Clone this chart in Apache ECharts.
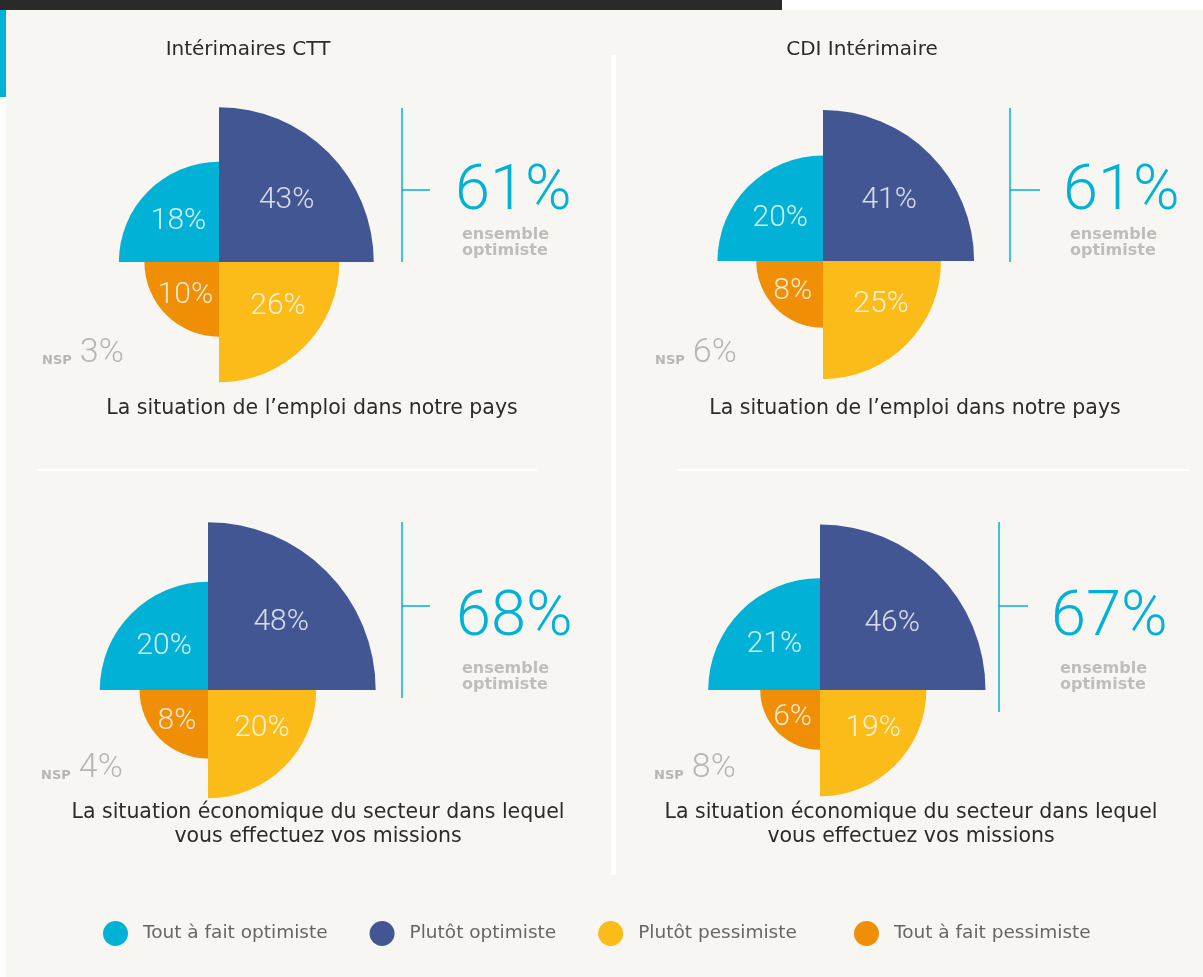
<!DOCTYPE html>
<html>
<head>
<meta charset="utf-8">
<script src="https://cdn.jsdelivr.net/npm/echarts@6/dist/echarts.min.js"></script>
<style>
html, body { margin: 0; padding: 0; background: #fff; }
#chart { width: 1203px; height: 977px; }
</style>
</head>
<body>
<div id="chart"></div>
<script>
// --- données ---
const categories = ['Tout à fait optimiste', 'Plutôt optimiste', 'Plutôt pessimiste', 'Tout à fait pessimiste'];
const colors = ['#02b2d6', '#425694', '#fbbb19', '#f08f05'];
const groups = ['Intérimaires CTT', 'CDI Intérimaire'];
const questions = ['La situation de l’emploi dans notre pays', 'La situation économique du secteur dans lequel\nvous effectuez vos missions'];

// valeurs dans l'ordre des catégories
const cttEmploi = [18, 43, 26, 10];
const cdiEmploi = [20, 41, 25, 8];
const cttEco = [20, 48, 20, 8];
const cdiEco = [21, 46, 19, 6];
const nsp = [3, 6, 4, 8];
const ensembleOptimiste = [61, 61, 68, 67];

// ordre horaire des quarts, en partant du haut
const angleOrder = [1, 2, 3, 0];

const FONT = 'DejaVu Sans';
const NUMFONT = 'Roboto';
const CYAN = '#02b2d6';

// décalage des étiquettes par catégorie
const labelOffsets = [[2, 2], [2, 4], [8, -7], [-2, 2]];

// mise en page des 4 blocs
const panels = [
  { values: cttEmploi, cx: 219, cy: 262, r: 236, bx: 402, by: [108, 262], tickY: 190, tickX: 430, numX: 455, numY: 193, ensX: 462, ensY: 227, nspX: 42, nspY: 353, qX: 312, qY: 409 },
  { values: cdiEmploi, cx: 823, cy: 261, r: 236, bx: 1010, by: [108, 262], tickY: 190, tickX: 1040, numX: 1063, numY: 193, ensX: 1070, ensY: 227, nspX: 655, nspY: 353, qX: 915, qY: 409 },
  { values: cttEco, cx: 208, cy: 690, r: 242, bx: 402, by: [522, 698], tickY: 606, tickX: 430, numX: 456, numY: 619, ensX: 462, ensY: 661, nspX: 41, nspY: 768, qX: 318, qY: 825 },
  { values: cdiEco, cx: 820, cy: 690, r: 244, bx: 999, by: [522, 712], tickY: 606, tickX: 1028, numX: 1051, numY: 619, ensX: 1060, ensY: 661, nspX: 654, nspY: 768, qX: 911, qY: 825 }
];

const polar = [], angleAxis = [], radiusAxis = [], series = [];

panels.forEach(function (p, i) {
  polar.push({ center: [p.cx, p.cy], radius: p.r });
  angleAxis.push({
    polarIndex: i, type: 'category', startAngle: 90, clockwise: true,
    data: angleOrder.map(function (c) { return categories[c]; }),
    axisLine: { show: false }, axisTick: { show: false }, axisLabel: { show: false }, splitLine: { show: false }
  });
  // rayon = racine de la valeur (surface proportionnelle), 10 = 100 %
  radiusAxis.push({
    polarIndex: i, type: 'value', min: 0, max: 10,
    axisLine: { show: false }, axisTick: { show: false }, axisLabel: { show: false }, splitLine: { show: false }
  });
  categories.forEach(function (name, c) {
    series.push({
      type: 'bar', name: name, coordinateSystem: 'polar', polarIndex: i,
      barCategoryGap: '0%', barGap: '-100%', silent: true,
      itemStyle: { color: colors[c] },
      data: angleOrder.map(function (k) { return k === c ? Math.sqrt(p.values[c]) : '-'; })
    });
  });
  // étiquettes au centre de gravité de chaque quart
  series.push({
    type: 'scatter', coordinateSystem: 'polar', polarIndex: i, silent: true, z: 5,
    symbolSize: 2, itemStyle: { color: 'rgba(0,0,0,0)' },
    label: {
      show: true, position: 'inside', color: '#fff', fontFamily: NUMFONT, fontWeight: 300, fontSize: 30,
      formatter: function (d) { return d.value[2] + '%'; }
    },
    data: angleOrder.map(function (c, k) {
      return { value: [0.6 * Math.sqrt(p.values[c]), k, p.values[c]], label: { offset: labelOffsets[c] } };
    })
  });
});

const graphic = [
  { type: 'rect', shape: { x: 6, y: 10, width: 1197, height: 967 }, style: { fill: '#f7f6f2' }, z: -10 },
  { type: 'rect', shape: { x: 0, y: 0, width: 782, height: 10 }, style: { fill: '#2a2a2a' }, z: -10 },
  { type: 'rect', shape: { x: 0, y: 10, width: 6, height: 87 }, style: { fill: CYAN }, z: -10 },
  { type: 'rect', shape: { x: 611, y: 55, width: 5, height: 820 }, style: { fill: '#ffffff' }, z: -9 },
  { type: 'rect', shape: { x: 37, y: 469, width: 500, height: 2 }, style: { fill: '#ffffff' }, z: -9 },
  { type: 'rect', shape: { x: 677, y: 469, width: 512, height: 2 }, style: { fill: '#ffffff' }, z: -9 },
  { type: 'text', x: 248, y: 50, style: { text: groups[0], fill: '#2b2b2b', font: '20px "' + FONT + '"', textAlign: 'center', textVerticalAlign: 'middle' } },
  { type: 'text', x: 862, y: 50, style: { text: groups[1], fill: '#2b2b2b', font: '20px "' + FONT + '"', textAlign: 'center', textVerticalAlign: 'middle' } }
];

panels.forEach(function (p, i) {
  graphic.push(
    { type: 'line', shape: { x1: p.bx, y1: p.by[0], x2: p.bx, y2: p.by[1] }, style: { stroke: CYAN, lineWidth: 1.5 } },
    { type: 'line', shape: { x1: p.bx, y1: p.tickY, x2: p.tickX, y2: p.tickY }, style: { stroke: CYAN, lineWidth: 1.5 } },
    { type: 'text', x: p.numX, y: p.numY, style: { text: ensembleOptimiste[i] + '%', fill: CYAN, font: '300 63px ' + NUMFONT, textAlign: 'left', textVerticalAlign: 'middle' } },
    { type: 'text', x: p.ensX, y: p.ensY, style: { text: 'ensemble\noptimiste', fill: '#bdbdbd', font: 'bold 16px "' + FONT + '"', lineHeight: 16, textAlign: 'left', textVerticalAlign: 'top' } },
    { type: 'text', x: p.nspX, y: p.nspY, style: {
        text: '{a|NSP}{b|' + nsp[i] + '%}', textAlign: 'left', textVerticalAlign: 'middle',
        rich: {
          a: { fill: '#b5b5b5', font: 'bold 13px "' + FONT + '"', verticalAlign: 'bottom', padding: [0, 8, 3, 0] },
          b: { fill: '#b5b5b5', font: '300 34px ' + NUMFONT }
        }
      } },
    { type: 'text', x: p.qX, y: p.qY, style: { text: questions[i < 2 ? 0 : 1], fill: '#2b2b2b', font: '20.5px "' + FONT + '"', lineHeight: 24, textAlign: 'center', textVerticalAlign: 'middle' } }
  );
});

const legendBase = {
  top: 916, icon: 'circle', itemWidth: 25, itemHeight: 25, itemGap: 42, selectedMode: false,
  textStyle: { color: '#666666', fontSize: 18.5, fontFamily: FONT, padding: [0, 0, 0, 10] }
};

const chart = echarts.init(document.getElementById('chart'));
chart.setOption({
  backgroundColor: '#ffffff',
  animation: false,
  polar: polar,
  angleAxis: angleAxis,
  radiusAxis: radiusAxis,
  legend: [
    Object.assign({}, legendBase, { data: categories.slice(0, 3), left: 98 }),
    Object.assign({}, legendBase, { data: categories.slice(3), left: 849 })
  ],
  graphic: graphic,
  series: series
});
</script>
</body>
</html>
